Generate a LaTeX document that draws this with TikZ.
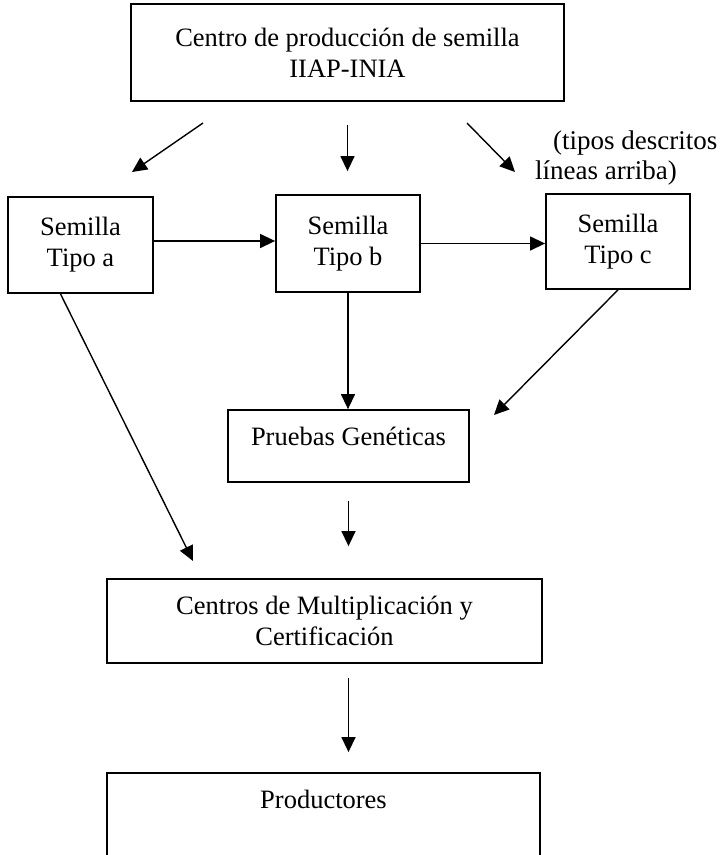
\documentclass[tikz,border=0pt]{standalone}
\usepackage{fontspec}
\setmainfont{Liberation Serif}
\usetikzlibrary{arrows.meta}
\tikzset{
  caja/.style={draw, line width=1.8pt, align=center, inner sep=0pt,
    font=\fontsize{26.5}{31}\selectfont},
  flecha/.style={line width=1.4pt, -{Triangle[length=15pt,width=14pt]}}
}
\begin{document}
\begin{tikzpicture}[x=1pt, y=-1pt] % y grows downwards
\path[use as bounding box, clip] (0,0) rectangle (726,855);
\node[caja, minimum width=433pt, minimum height=97pt] (P_top) at (347.5,52.5) {Centro de producción de semilla\\IIAP-INIA};
\node[caja, minimum width=145pt, minimum height=96pt] (P_a) at (80.5,245) {Semilla\\Tipo a};
\node[caja, minimum width=144pt, minimum height=97pt] (P_b) at (348,243.5) {Semilla\\Tipo b};
\node[caja, minimum width=144pt, minimum height=95pt] (P_c) at (618,241.5) {Semilla\\Tipo c};
\node[caja, minimum width=241pt, minimum height=72pt, text height=18pt, text depth=20pt] (P_pg) at (348.5,446) {Pruebas Genéticas};
\node[caja, minimum width=435pt, minimum height=84pt] (P_cm) at (324.5,621) {Centros de Multiplicación y\\Certificación};
\node[caja, minimum width=433pt, minimum height=100pt, text height=18pt, text depth=48pt] (P_pr) at (323.5,823) {Productores};
\node[font=\fontsize{27}{30}\selectfont, align=left, inner sep=0pt, anchor=north west] (P_nota) at (535,131) {\hspace*{18pt}(tipos descritos\\líneas arriba)};
\coordinate (A_1) at (203,123);
\coordinate (A_2) at (132,172);
\coordinate (C_1) at (467,123);
\coordinate (C_2) at (515,172);
\coordinate (D_2) at (494,415);
\coordinate (E_2) at (193,561);
\draw[flecha] (A_1) -- (A_2);
\draw[flecha, shorten <=23pt, shorten >=23pt] (P_top.south) -- (P_top.south |- P_b.north);
\draw[flecha] (C_1) -- (C_2);
\draw[flecha] ([yshift=4pt]P_a.east) -- ([yshift=4pt]P_a.east -| P_b.west);
\draw[flecha] (P_b.east) -- (P_b.east -| P_c.west);
\draw[flecha] (P_b.south) -- (P_b.south |- P_pg.north);
\draw[flecha] (P_c.south) -- (D_2);
\draw[flecha] ([xshift=-20pt]P_a.south) -- (E_2);
\draw[flecha, shorten <=18pt, shorten >=32pt] (P_pg.south) -- (P_pg.south |- P_cm.north);
\draw[flecha, shorten <=14pt, shorten >=20pt] (P_cm.south -| P_pg.south) -- (P_pg.south |- P_pr.north);
\end{tikzpicture}
\end{document}
